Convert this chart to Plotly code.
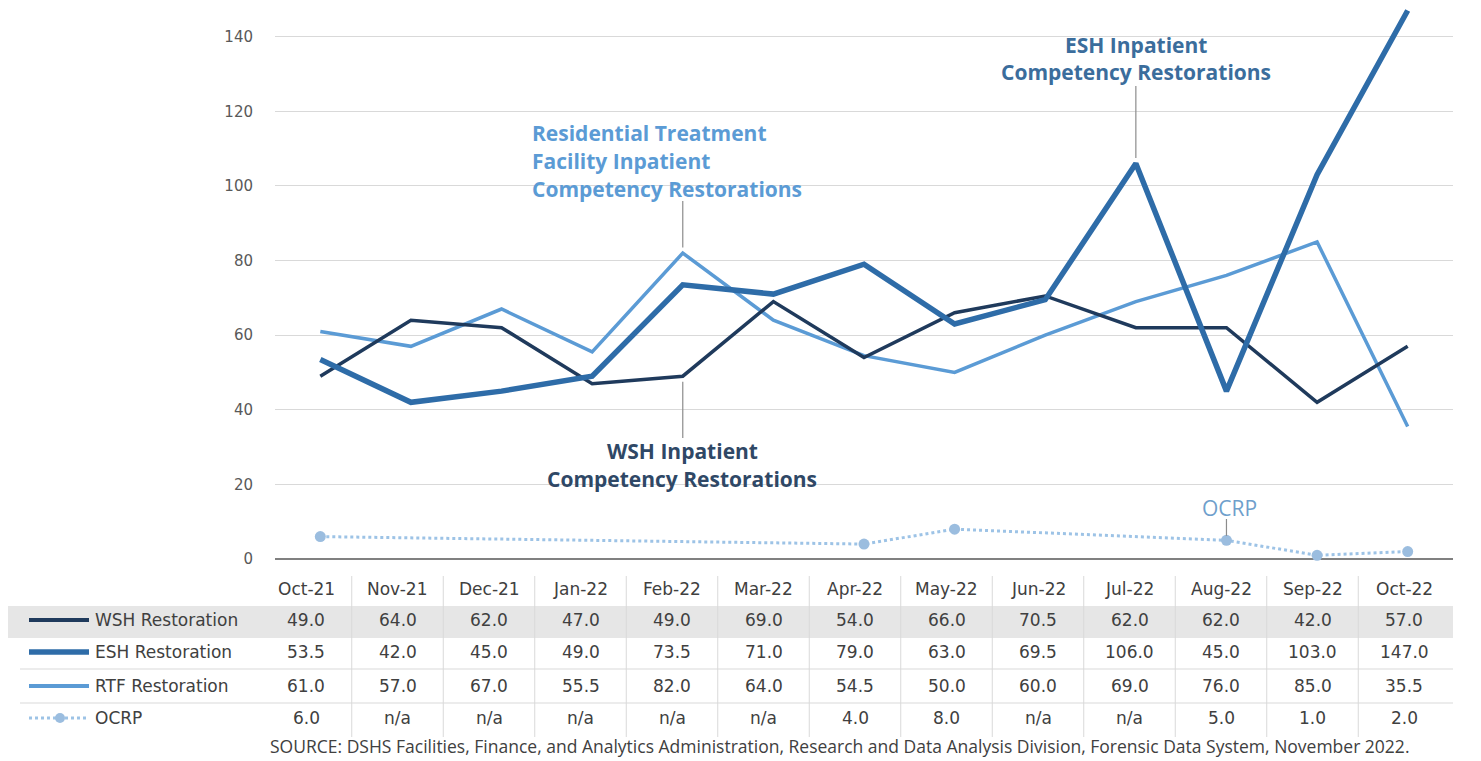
import plotly.graph_objects as go

# ---------------- data ----------------
months = ["Oct-21", "Nov-21", "Dec-21", "Jan-22", "Feb-22", "Mar-22", "Apr-22",
          "May-22", "Jun-22", "Jul-22", "Aug-22", "Sep-22", "Oct-22"]
wsh = [49.0, 64.0, 62.0, 47.0, 49.0, 69.0, 54.0, 66.0, 70.5, 62.0, 62.0, 42.0, 57.0]
esh = [53.5, 42.0, 45.0, 49.0, 73.5, 71.0, 79.0, 63.0, 69.5, 106.0, 45.0, 103.0, 147.0]
rtf = [61.0, 57.0, 67.0, 55.5, 82.0, 64.0, 54.5, 50.0, 60.0, 69.0, 76.0, 85.0, 35.5]
ocrp = [6.0, None, None, None, None, None, 4.0, 8.0, None, None, 5.0, 1.0, 2.0]
row_names = ["WSH Restoration", "ESH Restoration", "RTF Restoration", "OCRP"]
y_ticks = [0, 20, 40, 60, 80, 100, 120, 140]
source = ("SOURCE: DSHS Facilities, Finance, and Analytics Administration, Research and "
          "Data Analysis Division, Forensic Data System, November 2022.")

# ---------------- styles ----------------
C_WSH = "#1f3a5c"
C_ESH = "#2e6ca8"
C_RTF = "#5b9bd5"
C_OCRP = "#9dc3e6"
C_OCRP_M = "#9bbddf"
TXT = "#404040"
GRID = "#d9d9d9"

OFF = 8                      # page body margin
W, H = 1465, 753
L, R, T = 267, 20, 0
PLOT_BOTTOM = 551            # figure px of y=0
B = H - PLOT_BOTTOM
PW, PH = W - L - R, PLOT_BOTTOM - T
Y_TOP = PH / 3.731           # data units at top of plot area


def px(xp):                  # screen px -> paper x
    return (xp - OFF - L) / PW


def py(yp):                  # screen px -> paper y
    return (PLOT_BOTTOM + OFF - yp) / PH


def dy(yp):                  # screen px -> data y
    return (559 - yp) / 3.731


x_idx = list(range(len(months)))

fig = go.Figure()
fig.add_trace(go.Scatter(x=x_idx, y=ocrp, mode="lines+markers", connectgaps=True,
                         line=dict(color=C_OCRP, width=3, dash="dot"),
                         marker=dict(color=C_OCRP_M, size=11), name="OCRP", cliponaxis=False))
fig.add_trace(go.Scatter(x=x_idx, y=rtf, mode="lines", line=dict(color=C_RTF, width=3.5),
                         name="RTF Restoration", cliponaxis=False))
fig.add_trace(go.Scatter(x=x_idx, y=wsh, mode="lines", line=dict(color=C_WSH, width=3.5),
                         name="WSH Restoration", cliponaxis=False))
fig.add_trace(go.Scatter(x=x_idx, y=esh, mode="lines", line=dict(color=C_ESH, width=5.5),
                         name="ESH Restoration", cliponaxis=False))

shapes = []
annos = []

# leader lines (data coords)
lead = dict(type="line", xref="x", yref="y", line=dict(color="#8c8c8c", width=1.2))
shapes.append(dict(lead, x0=4, x1=4, y0=rtf[4] + 1.5, y1=dy(201)))
shapes.append(dict(lead, x0=4, x1=4, y0=wsh[4] - 1.5, y1=dy(438)))
shapes.append(dict(lead, x0=9, x1=9, y0=esh[9] + 1.5, y1=dy(86)))
shapes.append(dict(lead, x0=10, x1=10, y0=ocrp[10] + 1.2, y1=dy(519)))

AF = "Open Sans"
AS = 21


def label(lines, x, xanchor, ys, color, bold=True, size=AS):
    for t, yy in zip(lines, ys):
        annos.append(dict(x=x, y=py(yy), xref="paper", yref="paper", xanchor=xanchor,
                          yanchor="middle", showarrow=False,
                          text=f"<b>{t}</b>" if bold else t,
                          font=dict(family=AF, size=size, color=color)))


label(["Residential Treatment", "Facility Inpatient", "Competency Restorations"],
      px(530), "left", [133, 161, 189], C_RTF)
label(["WSH Inpatient", "Competency Restorations"], px(682), "center", [451, 479], "#2f4866")
label(["ESH Inpatient", "Competency Restorations"], px(1136), "center", [45, 72], "#3b6d9c")
label(["OCRP"], px(1229), "center", [508], "#6f9fcc", bold=False, size=21)

# ---------------- table ----------------
col0, colstep = 306, 91.5
row_y = [620, 652, 686, 718]
hdr_y = 589
shapes.append(dict(type="rect", xref="paper", yref="paper", x0=px(5), x1=px(1453),
                   y0=py(638), y1=py(606), fillcolor="#e6e6e6", line=dict(width=0), layer="below"))
for yl in [669, 703]:
    shapes.append(dict(type="line", xref="paper", yref="paper", x0=px(20), x1=px(1453),
                       y0=py(yl), y1=py(yl), line=dict(color=GRID, width=1)))
for k in range(len(months) - 1):
    xs = col0 + colstep * (k + 0.5)
    shapes.append(dict(type="line", xref="paper", yref="paper", x0=px(xs), x1=px(xs),
                       y0=py(576), y1=py(737), line=dict(color=GRID, width=1)))

tfont = dict(family="DejaVu Sans", size=17, color=TXT)
for k, m in enumerate(months):
    xc = px(col0 + colstep * k)
    annos.append(dict(x=xc, y=py(hdr_y), xref="paper", yref="paper", text=m, showarrow=False,
                      xanchor="center", yanchor="middle", font=tfont))
    for r, series in enumerate([wsh, esh, rtf, ocrp]):
        v = series[k]
        s = "n/a" if v is None else f"{v:.1f}"
        annos.append(dict(x=xc, y=py(row_y[r]), xref="paper", yref="paper", text=s,
                          showarrow=False, xanchor="center", yanchor="middle", font=tfont))

for r, name in enumerate(row_names):
    annos.append(dict(x=px(93), y=py(row_y[r]), xref="paper", yref="paper", text=name,
                      showarrow=False, xanchor="left", yanchor="middle", font=tfont))

# legend keys
key_styles = [(C_WSH, 4, "solid"), (C_ESH, 5.5, "solid"), (C_RTF, 4, "solid"), (C_OCRP, 3, "dot")]
for r, (c, w, d) in enumerate(key_styles):
    shapes.append(dict(type="line", xref="paper", yref="paper", x0=px(29), x1=px(89),
                       y0=py(row_y[r]), y1=py(row_y[r]), line=dict(color=c, width=w, dash=d)))
shapes.append(dict(type="circle", xref="paper", yref="paper", x0=px(55), x1=px(65),
                   y0=py(row_y[3] + 5), y1=py(row_y[3] - 5), fillcolor=C_OCRP_M,
                   line=dict(width=0)))

annos.append(dict(x=px(839), y=py(746), xref="paper", yref="paper", text=source,
                  showarrow=False, xanchor="center", yanchor="middle",
                  font=dict(family="Open Sans", size=17.5, color=TXT)))

fig.update_layout(
    width=W, height=H, margin=dict(l=L, r=R, t=T, b=B, pad=0),
    paper_bgcolor="white", plot_bgcolor="white", showlegend=False,
    shapes=shapes, annotations=annos,
    xaxis=dict(range=[-0.5, 12.5], showticklabels=False, showgrid=False, zeroline=False,
               showline=False, ticks=""),
    yaxis=dict(range=[0, Y_TOP], tickvals=y_ticks, showgrid=True, gridcolor=GRID, gridwidth=1,
               zeroline=True, zerolinecolor="#808080", zerolinewidth=1.5, ticks="",
               tickfont=dict(family="DejaVu Sans", size=15, color="#595959"),
               ticklabelstandoff=21, showline=False),
)

fig.write_html("out.html")
